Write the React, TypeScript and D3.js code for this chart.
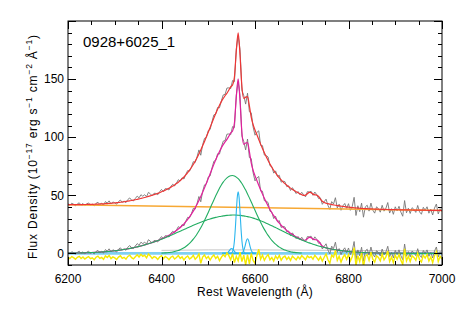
import React from "react";
import * as d3 from "d3";

// spectrum of 0928+6025_1, H-alpha region

const objectName = "0928+6025_1";
const xTicks = [6200, 6400, 6600, 6800, 7000];
const yTicks = [0, 50, 100, 150];

// pixel grid of the spectrum (4 A)
const wave = d3.range(6200, 7001, 4);

// power-law continuum (orange)
const contWave = [6200, 7000];
const contFlux = [41.8, 36.9];

// very broad Gaussian (green), on the spectrum grid
const broad2Flux = [
  0.18, 0.2, 0.23, 0.26, 0.29, 0.32, 0.36, 0.4, 0.44, 0.49, 0.55, 0.61, 0.67, 0.74, 0.82, 0.91, 1.0, 1.1, 1.21, 1.32, 1.45, 1.59, 1.73, 1.89, 2.06,
  2.25, 2.44, 2.65, 2.88, 3.12, 3.37, 3.64, 3.93, 4.23, 4.54, 4.88, 5.24, 5.62, 6.01, 6.43, 6.86, 7.31, 7.78, 8.27, 8.78, 9.31, 9.86, 10.43, 11.01, 11.61,
  12.23, 12.86, 13.51, 14.18, 14.85, 15.54, 16.23, 16.95, 17.66, 18.38, 19.1, 19.83, 20.56, 21.28, 22.0, 22.73, 23.43, 24.14, 24.83, 25.5, 26.16, 26.8, 27.41, 28.0, 28.58,
  29.12, 29.63, 30.12, 30.57, 30.99, 31.37, 31.71, 32.02, 32.29, 32.51, 32.69, 32.84, 32.93, 32.99, 33.0, 32.96, 32.87, 32.72, 32.53, 32.28, 31.98, 31.64, 31.25, 30.82, 30.34,
  29.83, 29.27, 28.67, 28.05, 27.4, 26.72, 26.01, 25.28, 24.53, 23.77, 22.99, 22.21, 21.4, 20.6, 19.81, 19.01, 18.21, 17.41, 16.63, 15.86, 15.1, 14.35, 13.62, 12.9, 12.2,
  11.52, 10.86, 10.22, 9.6, 9.03, 8.46, 7.91, 7.39, 6.89, 6.41, 5.96, 5.53, 5.12, 4.73, 4.37, 4.03, 3.71, 3.41, 3.13, 2.87, 2.62, 2.39, 2.18, 1.99, 1.81,
  1.64, 1.48, 1.34, 1.21, 1.09, 0.98, 0.88, 0.79, 0.71, 0.64, 0.57, 0.51, 0.45, 0.4, 0.36, 0.32, 0.28, 0.25, 0.22, 0.19, 0.17, 0.15, 0.13, 0.11, 0.1,
  0.09, 0.08, 0.07, 0.06, 0.05, 0.05, 0.04, 0.04, 0.03, 0.03, 0.02, 0.02, 0.02, 0.02, 0.02, 0.02, 0.02, 0.01, 0.01, 0.01, 0.01, 0.01, 0.01, 0.01, 0.01, 0.01,
];

// broad Gaussian (green)
const broad1Wave = d3.range(6400, 6701, 4);
const broad1Flux = [
  0.24, 0.32, 0.43, 0.57, 0.74, 0.97, 1.25, 1.6, 2.03, 2.56, 3.2, 3.97, 4.88, 5.96, 7.22, 8.67, 10.34, 12.23, 14.35, 16.71, 19.3, 22.1, 25.15, 28.37, 31.74,
  35.24, 38.83, 42.44, 46.02, 49.51, 52.85, 55.97, 58.8, 61.29, 63.38, 65.03, 66.19, 66.85, 67.0, 66.59, 65.67, 64.26, 62.39, 60.09, 57.42, 54.45, 51.2, 47.77, 44.2, 40.64,
  37.04, 33.5, 30.04, 26.71, 23.6, 20.66, 17.96, 15.5, 13.26, 11.25, 9.47, 7.91, 6.56, 5.39, 4.39, 3.56, 2.86, 2.28, 1.8, 1.41, 1.1, 0.85, 0.65, 0.49, 0.37, 0.28,
];

// narrow lines (cyan), 2 A grid
const narrowWave = d3.range(6530, 6603, 2);
const haNarrow = [
  0, 0, 0, 0, 0, 0, 0, 0, 0, 0.1, 0.42, 1.51, 4.5, 10.9, 21.8, 35.7, 48.0, 53.0, 48.0, 35.7, 21.8, 10.9, 4.5, 1.51, 0.42, 0.1,
  0, 0, 0, 0, 0, 0, 0, 0, 0, 0, 0,
];
const nii6584 = [
  0, 0, 0, 0, 0, 0, 0, 0, 0, 0, 0, 0, 0, 0, 0, 0, 0, 0, 0, 0,
  0.1, 0.36, 1.07, 2.6, 5.18, 8.49, 11.42, 12.6, 11.42, 8.49, 5.18, 2.6, 1.07, 0.36, 0.1, 0, 0,
];
const nii6548 = [
  0, 0, 0, 0.03, 0.12, 0.36, 0.87, 1.73, 2.83, 3.8, 4.2, 3.8, 2.83, 1.73, 0.87, 0.36, 0.12, 0.03,
  0, 0, 0, 0, 0, 0, 0, 0, 0, 0, 0, 0, 0, 0, 0, 0, 0, 0, 0,
];

// [SII] doublet, only in the total model
const siiWave = d3.range(6696, 6757, 4);
const siiFlux = [0.01, 0.06, 0.33, 1.25, 3.04, 4.81, 5.16, 4.49, 4.43, 4.77, 4.03, 2.28, 0.84, 0.2, 0.03, 0];

// data minus model (yellow, drawn shifted down)
const residual = [
  0.8, -0.5, 1.2, 0.3, -1.0, 0.6, 1.5, -0.4, 0.9, -0.8, 0.4, 1.3, -0.6, 0.2, -1.4, 0.7, 1.6, -0.3, 0.5, -1.1, 1.8, 0.4, 2.2, -0.5, 1.0,
  0.1, -1.3, 0.8, 1.9, -0.2, 0.6, -1.0, 1.4, 2.5, 0.3, -0.7, 1.1, 2.8, 0.9, 3.2, 1.5, 2.4, 0.2, 3.5, 1.8, -0.4, 1.2, 0.5, -1.2, 0.9,
  2.0, -0.6, 1.3, 0.2, -1.5, 0.7, 1.6, -0.9, 0.4, 2.1, -0.3, 1.0, -1.7, 0.5, 1.8, -0.8, 0.3, 2.4, -1.1, 0.6, 3.5, -4.5, 0.8, 2.6, -0.5,
  1.4, -1.8, 0.9, 2.7, -0.4, 1.5, -2.2, 0.6, 3.0, 1.2, 4.5, 2.0, -1.5, 3.8, -4.0, 1.5, -2.5, 5.0, -3.0, 2.5, -6.0, 3.0, -5.0, 4.0, -2.0,
  -4.5, 2.0, 7.5, -1.0, 2.5, -2.0, 1.0, 3.0, -1.5, 0.5, -2.5, 1.8, -0.7, 2.2, -1.9, 0.6, 1.7, -1.2, 0.8, -2.0, 1.5, 0.0, -1.6, 1.1, -0.8,
  2.0, 0.5, -1.5, 1.8, 0.4, 1.2, -1.0, 2.4, 0.3, -1.8, 1.0, -2.6, 0.7, 3.5, -1.5, -4.5, 2.5, 0.8, 6.5, -2.0, 1.5, -3.5, 0.5, 2.8, -1.2,
  3.0, -2.5, 1.0, 9.0, -6.5, 2.0, -3.0, 4.5, -7.5, 1.5, 3.0, -2.0, 5.0, -1.0, -3.5, 2.0, 0.5, -2.5, 3.5, -1.5, 1.0, 6.0, -3.0, 0.8, -4.0,
  2.5, -1.0, 3.0, -2.0, -5.5, 8.0, -2.5, 1.5, -3.0, 2.0, 0.5, -2.0, 4.0, -1.5, -3.5, 2.5, 0.0, 3.0, -2.5, 1.0, -4.0, 2.0, 5.5, -3.0, 1.5, -1.0,
];
const residualOffset = -4;

// faint grey component near zero
const greyWave = [6400, 6500, 6600, 6700, 6800, 6900, 7000];
const greyFlux = [2.6, 3.0, 3.0, 2.8, 2.5, 2.3, 2.2];

const font = "'Liberation Sans', Arial, Helvetica, sans-serif";

export default function App() {
  const W = 463;
  const H = 309;
  const x0 = 68, x1 = 442, y0 = 21, y1 = 265;

  const x = d3.scaleLinear().domain([6200, 7000]).range([x0, x1]);
  const y = d3.scaleLinear().domain([-10, 200]).range([y1, y0]);
  const cont = d3.scaleLinear().domain(contWave).range(contFlux);

  const toMap = (ws: number[], vs: number[]) => new Map(ws.map((w, i) => [w, vs[i]]));
  const b1 = toMap(broad1Wave, broad1Flux);
  const ha = toMap(narrowWave, haNarrow);
  const n84 = toMap(narrowWave, nii6584);
  const n48 = toMap(narrowWave, nii6548);
  const sii = toMap(siiWave, siiFlux);

  const model = wave.map(
    (w, i) =>
      broad2Flux[i] + (b1.get(w) ?? 0) + (ha.get(w) ?? 0) + (n84.get(w) ?? 0) + (n48.get(w) ?? 0) + (sii.get(w) ?? 0)
  );
  const lineObs = wave.map((w, i) => model[i] + residual[i]);

  const line = d3.line<[number, number]>().x((d) => x(d[0])).y((d) => y(d[1]));
  const smooth = d3.line<[number, number]>().x((d) => x(d[0])).y((d) => y(d[1])).curve(d3.curveMonotoneX);
  const pts = (ws: number[], vs: number[]) => ws.map((w, i) => [w, vs[i]] as [number, number]);

  const obsUpper = line(wave.map((w, i) => [w, lineObs[i] + cont(w)]));
  const obsLower = line(pts(wave, lineObs));
  const resid = line(wave.map((w, i) => [w, residual[i] + residualOffset]));
  const redPath = smooth(wave.map((w, i) => [w, model[i] + cont(w)]));
  const magPath = smooth(pts(wave, model));
  const contPath = line(pts(contWave, contFlux));
  const g1Path = smooth(pts(broad1Wave, broad1Flux));
  const g2Path = smooth(pts(wave, broad2Flux));
  const narrowPaths = [haNarrow, nii6584, nii6548].map((v) => smooth(pts(narrowWave, v)));
  const greyPath = line(pts(greyWave, greyFlux));
  const zeroPath = line([[6200, 0], [7000, 0]]);

  const xMinor = d3.range(6200, 7001, 50);
  const yMinor = d3.range(-10, 201, 10);

  return (
    <svg width={W} height={H} style={{ position: "absolute", left: 0, top: 0, background: "#fff" }}>
      <defs>
        <clipPath id="plot">
          <rect x={x0} y={y0} width={x1 - x0} height={y1 - y0} />
        </clipPath>
      </defs>

      <g clipPath="url(#plot)" fill="none">
        <path d={zeroPath!} stroke="#80d0f2" strokeWidth={2.6} />
        <path d={greyPath!} stroke="#c6c6c6" strokeWidth={1} />
        <path d={obsUpper!} stroke="#767676" strokeWidth={0.9} />
        <path d={obsLower!} stroke="#767676" strokeWidth={0.9} />
        <path d={contPath!} stroke="#f7a833" strokeWidth={1.4} />
        <path d={redPath!} stroke="#ee3535" strokeWidth={1.2} />
        <path d={magPath!} stroke="#e11f9c" strokeWidth={1.2} />
        <path d={g1Path!} stroke="#22ad62" strokeWidth={1.1} />
        <path d={g2Path!} stroke="#22ad62" strokeWidth={1.1} />
        {narrowPaths.map((p, i) => (
          <path key={i} d={p!} stroke="#2bb6ee" strokeWidth={1.1} />
        ))}
        <path d={resid!} stroke="#f5ea00" strokeWidth={1.4} />
      </g>

      <rect x={x0} y={y0} width={x1 - x0} height={y1 - y0} fill="none" stroke="#000" strokeWidth={1} />

      <g stroke="#000" strokeWidth={1}>
        {xMinor.map((v) => {
          const len = v % 200 === 0 ? 8 : 4;
          const px = Math.round(x(v)) + 0.5;
          return (
            <g key={"x" + v}>
              <line x1={px} x2={px} y1={y1} y2={y1 - len} />
              <line x1={px} x2={px} y1={y0} y2={y0 + len} />
            </g>
          );
        })}
        {yMinor.map((v) => {
          const len = v % 50 === 0 ? 8 : 4;
          const py = Math.round(y(v)) + 0.5;
          return (
            <g key={"y" + v}>
              <line x1={x0} x2={x0 + len} y1={py} y2={py} />
              <line x1={x1} x2={x1 - len} y1={py} y2={py} />
            </g>
          );
        })}
      </g>

      <g fontFamily={font} fontSize={12} fill="#000">
        {xTicks.map((v) => (
          <text key={v} x={x(v)} y={282.5} textAnchor="middle">
            {v}
          </text>
        ))}
        {yTicks.map((v) => (
          <text key={v} x={x0 - 4} y={y(v) + 4.3} textAnchor="end">
            {v}
          </text>
        ))}
        <text x={(x0 + x1) / 2} y={296} textAnchor="middle" letterSpacing={0.3}>
          Rest Wavelength (Å)
        </text>
        <text
          transform="translate(37,147) rotate(-90)"
          textAnchor="middle"
          textLength={224}
          lengthAdjust="spacing"
        >
          <tspan>Flux Density (10</tspan>
          <tspan fontSize={8.5} dy={-5}>−17</tspan>
          <tspan dy={5}> erg s</tspan>
          <tspan fontSize={8.5} dy={-5}>−1</tspan>
          <tspan dy={5}> cm</tspan>
          <tspan fontSize={8.5} dy={-5}>−2</tspan>
          <tspan dy={5}> Å</tspan>
          <tspan fontSize={8.5} dy={-5}>−1</tspan>
          <tspan dy={5}>)</tspan>
        </text>
        <text x={83} y={47} fontSize={15}>
          {objectName}
        </text>
      </g>
    </svg>
  );
}
